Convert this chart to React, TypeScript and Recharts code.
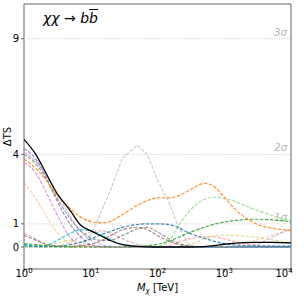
import { LineChart, Line, XAxis, YAxis, ReferenceLine, ReferenceArea } from 'recharts'

// dark matter mass grid [TeV]
const masses = [1, 1.5, 2, 3, 5, 7, 10, 15, 20, 30, 50, 70, 100, 150, 200, 300, 500, 700, 1000, 1500, 2000, 3000, 5000, 7000, 10000]

// delta TS per source
const combined = [4.65, 4.0, 3.35, 2.4, 1.55, 0.95, 0.7, 0.45, 0.27, 0.1, 0.03, 0.01, 0, 0, 0, 0, 0.02, 0.06, 0.12, 0.17, 0.19, 0.2, 0.2, 0.19, 0.18]
const orangeA = [3.8, 3.4, 3.0, 2.3, 1.65, 1.3, 1.1, 1.05, 1.12, 1.4, 1.8, 2.0, 2.12, 2.12, 2.2, 2.45, 2.75, 2.62, 2.15, 1.6, 1.3, 1.0, 0.82, 0.76, 0.72]
const grayPeak = [0, 0, 0, 0, 0, 0.05, 0.5, 1.65, 2.5, 3.85, 4.4, 4.0, 2.9, 1.9, 0.95, 0.05, 0, 0, 0, 0, 0, 0, 0, 0, 0]
const greenLight = [0, 0, 0, 0, 0, 0, 0, 0, 0, 0, 0, 0, 0.02, 0.3, 0.85, 1.55, 2.05, 2.15, 2.1, 1.95, 1.8, 1.6, 1.38, 1.25, 1.15]
const greenDark = [0.15, 0.1, 0.06, 0.02, 0, 0, 0, 0, 0, 0, 0.02, 0.05, 0.12, 0.25, 0.4, 0.62, 0.85, 0.98, 1.08, 1.15, 1.18, 1.2, 1.18, 1.14, 1.1]
const blue = [0.05, 0.03, 0.02, 0.03, 0.1, 0.2, 0.35, 0.55, 0.68, 0.85, 0.97, 1.0, 1.0, 0.97, 0.85, 0.6, 0.38, 0.25, 0.15, 0.08, 0.06, 0.05, 0.04, 0.04, 0.04]
const cyan = [0.1, 0.05, 0.05, 0.25, 0.6, 0.75, 0.7, 0.5, 0.3, 0.12, 0.03, 0.01, 0, 0, 0, 0, 0, 0, 0, 0, 0, 0, 0, 0, 0]
const purple = [4.25, 3.8, 3.2, 2.1, 0.95, 0.45, 0.1, 0.02, 0, 0, 0, 0, 0, 0, 0, 0, 0, 0, 0, 0, 0, 0, 0, 0, 0]
const lavender = [4.1, 3.7, 3.25, 2.4, 1.3, 0.7, 0.3, 0.1, 0.03, 0, 0, 0, 0, 0, 0, 0, 0, 0, 0, 0, 0.02, 0.1, 0.4, 0.6, 0.8]
const pink = [3.65, 3.2, 2.55, 1.5, 0.4, 0.08, 0.02, 0, 0, 0, 0, 0, 0, 0, 0, 0, 0, 0, 0, 0, 0, 0, 0, 0, 0]
const grayDash = [4.0, 3.6, 3.1, 2.2, 1.2, 0.7, 0.4, 0.28, 0.3, 0.5, 0.78, 0.85, 0.65, 0.35, 0.18, 0.05, 0, 0, 0, 0, 0, 0, 0, 0, 0]
const brown = [0.5, 0.3, 0.15, 0.05, 0.02, 0.05, 0.12, 0.3, 0.5, 0.75, 0.85, 0.75, 0.5, 0.25, 0.12, 0.03, 0, 0, 0, 0, 0, 0, 0, 0, 0]
const rosy = [0.6, 0.35, 0.15, 0.05, 0.2, 0.45, 0.65, 0.7, 0.6, 0.35, 0.12, 0.05, 0.02, 0, 0, 0, 0, 0, 0, 0, 0, 0, 0, 0, 0]
const orangeLight = [2.8, 2.1, 1.5, 0.7, 0.12, 0.02, 0, 0, 0, 0, 0, 0, 0, 0, 0, 0, 0, 0, 0.02, 0.08, 0.15, 0.3, 0.5, 0.62, 0.75]
const redLight = [0, 0, 0, 0, 0, 0, 0, 0, 0, 0, 0, 0, 0.02, 0.05, 0.2, 0.35, 0.45, 0.45, 0.35, 0.22, 0.15, 0.08, 0.04, 0.03, 0.03]
const olive = [0.02, 0.05, 0.08, 0.15, 0.3, 0.2, 0.05, 0, 0, 0, 0, 0, 0, 0, 0, 0.1, 0.35, 0.48, 0.52, 0.5, 0.47, 0.42, 0.32, 0.25, 0.2]

const xTicks = [1, 10, 100, 1000, 10000]
const yTicks = [0, 1, 4, 9]
const sigmaLevels = [
  { y: 1, text: '1σ' },
  { y: 4, text: '2σ' },
  { y: 9, text: '3σ' },
]

const minorTicks: number[] = []
for (let d = 1; d < 10000; d *= 10) for (let k = 2; k < 10; k++) minorTicks.push(d * k)

const seriesList = [
  { key: 'grayPeak', values: grayPeak, color: '#bdbdbd', opacity: 0.8, type: 'linear' },
  { key: 'orangeLight', values: orangeLight, color: '#ff7f0e', opacity: 0.35 },
  { key: 'rosy', values: rosy, color: '#c49c94', opacity: 0.7 },
  { key: 'redLight', values: redLight, color: '#ff9896', opacity: 0.8 },
  { key: 'olive', values: olive, color: '#dbdb8d', opacity: 0.9 },
  { key: 'lavender', values: lavender, color: '#c5b0d5', opacity: 0.9 },
  { key: 'greenLight', values: greenLight, color: '#98df8a', opacity: 0.9 },
  { key: 'pink', values: pink, color: '#e377c2', opacity: 0.8 },
  { key: 'purple', values: purple, color: '#9467bd', opacity: 0.85 },
  { key: 'grayDash', values: grayDash, color: '#7f7f7f', opacity: 0.8 },
  { key: 'brown', values: brown, color: '#8c564b', opacity: 0.7 },
  { key: 'cyan', values: cyan, color: '#17becf', opacity: 0.9 },
  { key: 'blue', values: blue, color: '#1f77b4', opacity: 0.85 },
  { key: 'greenDark', values: greenDark, color: '#2ca02c', opacity: 0.85 },
  { key: 'orangeA', values: orangeA, color: '#ff7f0e', opacity: 0.85 },
]

const rows = masses.map((m, i) => {
  const row: Record<string, number> = { m, combined: combined[i] }
  seriesList.forEach((s) => {
    row[s.key] = s.values[i]
  })
  return row
})

const font = 'DejaVu Sans, sans-serif'

function XTick(props: any) {
  const { x, y, payload } = props
  const exp = Math.round(Math.log10(payload.value))
  return (
    <text x={x} y={y + 3} textAnchor="middle" fontSize={10} fontFamily={font} fill="#000">
      10
      <tspan dy={-4} fontSize={7}>
        {exp}
      </tspan>
    </text>
  )
}

function XLabel(props: any) {
  const { viewBox } = props
  const cx = viewBox.x + viewBox.width / 2
  return (
    <text x={cx} y={viewBox.y + 22} textAnchor="middle" fontSize={10} fontFamily={font} fill="#000">
      <tspan fontStyle="italic">M</tspan>
      <tspan fontStyle="italic" fontSize={7} dy={2}>
        χ
      </tspan>
      <tspan dy={-2}> [TeV]</tspan>
    </text>
  )
}

function YLabel(props: any) {
  const { viewBox } = props
  const cy = viewBox.y + viewBox.height / 2
  return (
    <text
      x={11}
      y={cy}
      transform={`rotate(-90 11 ${cy})`}
      textAnchor="middle"
      fontSize={10}
      fontFamily={font}
      fill="#000"
    >
      ΔTS
    </text>
  )
}

function SigmaLabel(props: any) {
  const { viewBox, value } = props
  return (
    <text
      x={viewBox.x + viewBox.width - 4}
      y={viewBox.y - 3}
      textAnchor="end"
      fontSize={10}
      fontStyle="italic"
      fontFamily={font}
      fill="#b5b5b5"
    >
      {value}
    </text>
  )
}

export default function App() {
  return (
    <div style={{ position: 'absolute', left: 0, top: 0, width: 304, height: 299, background: '#fff' }}>
      <LineChart width={304} height={299} data={rows} margin={{ top: 4, right: 13, left: 0, bottom: 0 }}>
        <XAxis
          xAxisId="minor"
          dataKey="m"
          type="number"
          scale="log"
          domain={[1, 10000]}
          ticks={minorTicks}
          tick={false}
          tickSize={2}
          tickLine={{ stroke: '#666' }}
          axisLine={false}
          height={0}
          allowDataOverflow
        />
        <XAxis
          dataKey="m"
          type="number"
          scale="log"
          domain={[1, 10000]}
          ticks={xTicks}
          tick={<XTick />}
          tickSize={3}
          tickLine={{ stroke: '#666' }}
          axisLine={false}
          height={30}
          allowDataOverflow
          label={<XLabel />}
        />
        <YAxis
          type="number"
          domain={[-0.95, 10.5]}
          ticks={yTicks}
          tickSize={3}
          tickLine={{ stroke: '#666' }}
          axisLine={false}
          width={24}
          allowDataOverflow
          tick={{ fontSize: 10, fontFamily: font, fill: '#000' }}
          label={<YLabel />}
        />
        {sigmaLevels.map((s) => (
          <ReferenceLine
            key={s.text}
            y={s.y}
            stroke="#c8c8c8"
            strokeDasharray="1 1.5"
            label={<SigmaLabel value={s.text} />}
          />
        ))}
        {seriesList.map((s) => (
          <Line
            key={s.key}
            dataKey={s.key}
            type={(s.type as any) || 'monotone'}
            stroke={s.color}
            strokeOpacity={s.opacity}
            strokeWidth={1.2}
            strokeDasharray="3.5 1.5"
            dot={false}
            isAnimationActive={false}
          />
        ))}
        <Line
          dataKey="combined"
          type="monotone"
          stroke="#000"
          strokeWidth={1.3}
          dot={false}
          isAnimationActive={false}
        />
        <ReferenceArea x1={1} x2={10000} y1={-0.95} y2={10.5} fill="none" stroke="#666" strokeWidth={1} />
      </LineChart>
      <div
        style={{
          position: 'absolute',
          left: 43,
          top: 10,
          fontFamily: font,
          fontSize: 14,
          fontStyle: 'italic',
          color: '#000',
          whiteSpace: 'nowrap',
          lineHeight: '16px',
        }}
      >
        χχ<span style={{ fontStyle: 'normal' }}> → </span>b<span style={{ textDecoration: 'overline' }}>b</span>
      </div>
    </div>
  )
}
